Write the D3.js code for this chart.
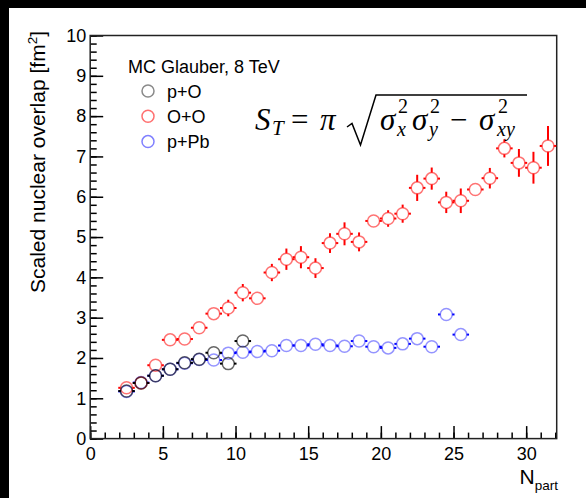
<!DOCTYPE html>
<html>
<head>
<meta charset="utf-8">
<script src="https://cdn.jsdelivr.net/npm/d3@7/dist/d3.min.js"></script>
<style>
  html, body { margin: 0; padding: 0; background: #fff; }
  svg { display: block; }
  .tick text { font-family: "Liberation Sans", Arial, sans-serif; font-size: 18px; fill: #000; }
  .tick line { stroke: #000; stroke-width: 1.5; }
</style>
</head>
<body>
<div id="chart"></div>
<script>
const WIDTH = 586;
const HEIGHT = 498;
const MARGIN = { TOP: 35.5, BOTTOM: 59.4, LEFT: 90.2, RIGHT: 29.3 };
const INNER_WIDTH = WIDTH - MARGIN.LEFT - MARGIN.RIGHT;
const INNER_HEIGHT = HEIGHT - MARGIN.TOP - MARGIN.BOTTOM;

// bin centres (N_part) and values
const nPartPO = [2.5, 3.5, 4.5, 5.5, 6.5, 7.5, 8.5, 9.5, 10.5];
const overlapPO = [1.18, 1.38, 1.56, 1.72, 1.88, 1.97, 2.13, 1.86, 2.42];
const errPO = [0.04, 0.04, 0.05, 0.05, 0.05, 0.05, 0.06, 0.06, 0.08];

const nPartOO = [2.5, 3.5, 4.5, 5.5, 6.5, 7.5, 8.5, 9.5, 10.5, 11.5, 12.5, 13.5, 14.5, 15.5, 16.5,
    17.5, 18.5, 19.5, 20.5, 21.5, 22.5, 23.5, 24.5, 25.5, 26.5, 27.5, 28.5, 29.5, 30.5, 31.5];
const overlapOO = [1.26, 1.38, 1.82, 2.45, 2.47, 2.75, 3.1, 3.24, 3.62, 3.48, 4.12, 4.45, 4.5, 4.23, 4.85,
    5.08, 4.88, 5.4, 5.46, 5.58, 6.22, 6.45, 5.86, 5.9, 6.18, 6.46, 7.2, 6.84, 6.72, 7.26];
const errOO = [0.05, 0.06, 0.1, 0.1, 0.1, 0.12, 0.14, 0.18, 0.19, 0.14, 0.19, 0.24, 0.25, 0.22, 0.22,
    0.26, 0.21, 0.16, 0.18, 0.2, 0.3, 0.25, 0.24, 0.28, 0.15, 0.23, 0.2, 0.32, 0.37, 0.47];

const nPartPPb = [2.5, 3.5, 4.5, 5.5, 6.5, 7.5, 8.5, 9.5, 10.5, 11.5, 12.5, 13.5, 14.5, 15.5, 16.5,
    17.5, 18.5, 19.5, 20.5, 21.5, 22.5, 23.5, 24.5, 25.5];
const overlapPPb = [1.17, 1.39, 1.56, 1.72, 1.87, 1.96, 1.95, 2.12, 2.14, 2.16, 2.18, 2.31, 2.31, 2.34, 2.31,
    2.29, 2.42, 2.28, 2.25, 2.35, 2.48, 2.28, 3.08, 2.58];
const errPPb = [0.03, 0.03, 0.04, 0.04, 0.04, 0.04, 0.05, 0.05, 0.05, 0.05, 0.05, 0.05, 0.05, 0.05, 0.05,
    0.05, 0.05, 0.05, 0.05, 0.05, 0.06, 0.06, 0.08, 0.08];

const BIN_HALF = 0.5;
const xTicks = [0, 5, 10, 15, 20, 25, 30];
const yTicks = [0, 1, 2, 3, 4, 5, 6, 7, 8, 9, 10];

const seriesList = [
    { name: 'p+Pb', x: nPartPPb, y: overlapPPb, err: errPPb, color: '#0000ff', marker: 'rgba(60,60,255,0.55)', legend: '#8080ff' },
    { name: 'O+O', x: nPartOO, y: overlapOO, err: errOO, color: '#ff0000', marker: 'rgba(255,40,40,0.65)', legend: '#ff7070' },
    { name: 'p+O', x: nPartPO, y: overlapPO, err: errPO, color: '#000000', marker: 'rgba(0,0,0,0.6)', legend: '#8a8a8a' },
];
const legendOrder = ['p+O', 'O+O', 'p+Pb'];

const FONT = '"Liberation Sans", Arial, sans-serif';
const SERIF = '"Liberation Serif", "DejaVu Serif", serif';
const R = 6;
const R_OUT = R + 0.75;

const root = d3.select('#chart')
    .append('svg')
    .attr('width', WIDTH)
    .attr('height', HEIGHT);

root.append('rect').attr('width', WIDTH).attr('height', HEIGHT).attr('fill', '#fff');
root.append('rect').attr('width', WIDTH).attr('height', 8).attr('fill', '#000');
root.append('rect').attr('width', 9).attr('height', HEIGHT).attr('fill', '#000');

const svg = root.append('g')
    .attr('transform', `translate(${MARGIN.LEFT}, ${MARGIN.TOP})`);

const xScale = d3.scaleLinear().domain([0, 32.1]).range([0, INNER_WIDTH]);
const yScale = d3.scaleLinear().domain([0, 10]).range([INNER_HEIGHT, 0]);

// minor ticks
svg.append('g')
    .attr('transform', `translate(0, ${INNER_HEIGHT})`)
    .call(d3.axisBottom(xScale).tickValues(d3.range(0, 33, 1)).tickSizeInner(-6).tickSizeOuter(0).tickFormat(''))
    .call((g) => g.select('.domain').remove());
svg.append('g')
    .call(d3.axisLeft(yScale).tickValues(d3.range(0, 10.01, 0.2)).tickSizeInner(-6.5).tickSizeOuter(0).tickFormat(''))
    .call((g) => g.select('.domain').remove());

// major ticks
svg.append('g')
    .attr('transform', `translate(0, ${INNER_HEIGHT})`)
    .call(d3.axisBottom(xScale).tickValues(xTicks).tickSizeInner(-12.5).tickSizeOuter(0).tickPadding(8.5))
    .call((g) => g.select('.domain').remove());
svg.append('g')
    .call(d3.axisLeft(yScale).tickValues(yTicks).tickSizeInner(-13).tickSizeOuter(0).tickPadding(4))
    .call((g) => g.select('.domain').remove());

svg.append('rect')
    .attr('width', INNER_WIDTH)
    .attr('height', INNER_HEIGHT)
    .attr('fill', 'none')
    .attr('stroke', '#222')
    .attr('stroke-width', 1.5);

// axis titles
const yTitle = root.append('text')
    .attr('transform', 'translate(45, 31) rotate(-90)')
    .attr('text-anchor', 'end')
    .attr('font-family', FONT)
    .attr('font-size', 21)
    .text('Scaled nuclear overlap [fm');
yTitle.append('tspan').attr('font-size', 13.5).attr('dy', -8).text('2');
yTitle.append('tspan').attr('dy', 8).text(']');

const xTitle = root.append('text')
    .attr('x', 558)
    .attr('y', 484)
    .attr('text-anchor', 'end')
    .attr('font-family', FONT)
    .attr('font-size', 21)
    .text('N');
xTitle.append('tspan').attr('font-size', 13.5).attr('dy', 6).text('part');

// data
seriesList.forEach((s) => {
    const g = svg.append('g');
    const pts = s.x.map((x, i) => ({ x, y: s.y[i], e: s.err[i] }));
    const segs = [];
    pts.forEach((p) => {
        const cx = xScale(p.x);
        const cy = yScale(p.y);
        const ex = xScale(p.x + BIN_HALF) - cx;
        const ey = yScale(p.y - p.e) - cy;
        if (ex > R_OUT) {
            segs.push([cx - ex, cy, cx - R_OUT, cy]);
            segs.push([cx + R_OUT, cy, cx + ex, cy]);
        }
        if (ey > R_OUT) {
            segs.push([cx, cy - ey, cx, cy - R_OUT]);
            segs.push([cx, cy + R_OUT, cx, cy + ey]);
        }
    });
    g.selectAll('line')
        .data(segs)
        .join('line')
        .attr('x1', (d) => d[0]).attr('y1', (d) => d[1])
        .attr('x2', (d) => d[2]).attr('y2', (d) => d[3])
        .attr('stroke', s.color)
        .attr('stroke-width', 2)
        .attr('stroke-linecap', 'square');
    g.selectAll('circle')
        .data(pts)
        .join('circle')
        .attr('cx', (d) => xScale(d.x))
        .attr('cy', (d) => yScale(d.y))
        .attr('r', R)
        .attr('fill', 'none')
        .attr('stroke', s.marker)
        .attr('stroke-width', 1.5);
});

// legend
const legend = root.append('g').attr('font-family', FONT);
legend.append('text').attr('x', 128).attr('y', 73).attr('font-size', 18).text('MC Glauber, 8 TeV');
legendOrder.forEach((name, i) => {
    const s = seriesList.find((d) => d.name === name);
    const cy = 91 + i * 25.3;
    legend.append('circle')
        .attr('cx', 148).attr('cy', cy).attr('r', R)
        .attr('fill', 'none').attr('stroke', s.legend).attr('stroke-width', 1.5);
    legend.append('text').attr('x', 167).attr('y', cy + 6.5).attr('font-size', 18).text(name);
});

// formula S_T = pi sqrt(sx^2 sy^2 - sxy^2)
const f = root.append('g').attr('font-family', SERIF).attr('fill', '#000');
const piece = (x, y, size, txt, italic) => f.append('text')
    .attr('x', x).attr('y', y).attr('font-size', size)
    .attr('font-style', italic ? 'italic' : 'normal').text(txt);
piece(255, 130, 31, 'S', true);
piece(272, 135, 21, 'T', true);
piece(291, 130, 31, '=', false);
piece(320, 130, 31, 'π', true);
f.append('path')
    .attr('d', 'M347,127 L352,123.5 L360.5,145 L376,95 L527,95')
    .attr('fill', 'none').attr('stroke', '#000').attr('stroke-width', 1.5)
    .attr('stroke-linejoin', 'miter');
piece(380, 130, 31, 'σ', true);
piece(398, 113, 20, '2', false);
piece(397, 136, 20, 'x', true);
piece(412, 130, 31, 'σ', true);
piece(430, 113, 20, '2', false);
piece(429, 136, 20, 'y', true);
piece(450, 130, 31, '−', false);
piece(479, 130, 31, 'σ', true);
piece(498, 113, 20, '2', false);
piece(497, 136, 20, 'xy', true);
</script>
</body>
</html>
